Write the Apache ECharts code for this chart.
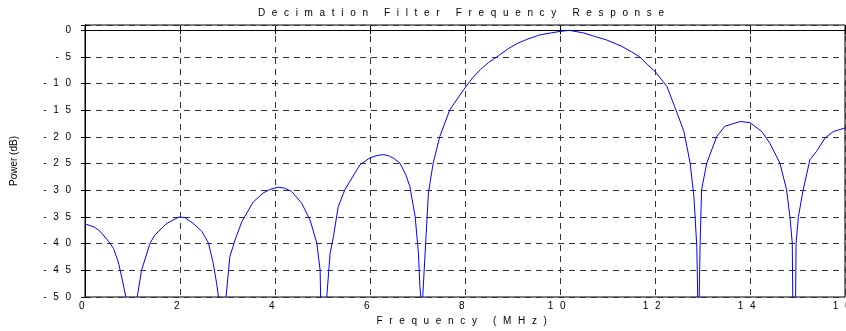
<!DOCTYPE html>
<html>
<head>
<meta charset="utf-8">
<script src="https://cdn.jsdelivr.net/npm/echarts@6/dist/echarts.min.js"></script>
<style>
html,body{margin:0;padding:0;background:#fff;}
#chart{width:846px;height:331px;}
</style>
</head>
<body>
<div id="chart"></div>
<script>
// ---- data ----
const titleText = 'Decimation Filter Frequency Response';
const xAxisName = 'Frequency (MHz)';
const yAxisName = 'Power (dB)';
const xTicks = [0, 2, 4, 6, 8, 10, 12, 14, 16];
const yTicks = [0, -5, -10, -15, -20, -25, -30, -35, -40, -45, -50];
const freqMHz = [
  0, 0.2, 0.32, 0.5, 0.6, 0.7, 0.8, 0.86, 0.98, 1.1,
  1.19, 1.37, 1.47, 1.72, 1.98, 2.1, 2.28, 2.46, 2.6, 2.7, 2.77, 2.81, 2.89, 2.97,
  3.05, 3.16, 3.3, 3.54, 3.75, 3.9, 4.07, 4.2, 4.35, 4.56, 4.74, 4.88, 4.95, 4.96, 5.02, 5.09,
  5.16, 5.23, 5.33, 5.47, 5.72, 5.79, 6.0, 6.14, 6.27, 6.39, 6.5, 6.63, 6.75, 6.84, 6.95, 7.02, 7.05, 7.07, 7.09, 7.11,
  7.16, 7.23, 7.33, 7.47, 7.68, 7.85, 8.0, 8.15, 8.32, 8.5, 8.67, 8.9, 9.09, 9.3, 9.58, 9.8, 10.0, 10.2, 10.5, 10.75, 10.98,
  11.3, 11.5, 11.68, 11.85, 12.0, 12.25, 12.44, 12.61, 12.74, 12.82, 12.88, 12.9, 12.915, 12.93,
  12.95, 12.98, 13.09, 13.3, 13.47, 13.79, 14.0, 14.25, 14.42, 14.63, 14.77, 14.84, 14.89, 14.9, 14.93, 14.96,
  14.97, 15.02, 15.12, 15.26, 15.4, 15.58, 15.75, 16.0
];
const powerDb = [
  -36.3, -36.9, -37.7, -39.6, -40.9, -43.4, -47.4, -50, -80, -50,
  -45, -39.9, -38.4, -36.2, -35.0, -35.1, -36.2, -37.7, -39.9, -43.7, -47.4, -50, -75, -50,
  -42.4, -39.3, -35.9, -32.2, -30.5, -29.8, -29.4, -29.6, -30.2, -32.4, -35.6, -39.9, -45, -50, -75, -50,
  -41.8, -38.7, -33.1, -29.9, -26.2, -25.2, -23.9, -23.5, -23.3, -23.5, -24.0, -24.9, -27.0, -29.3, -34.9, -41.8, -48, -50, -70, -50,
  -41.8, -30.5, -24.9, -19.9, -14.9, -12.7, -10.8, -9.0, -7.4, -6.0, -5.0, -3.5, -2.5, -1.7, -0.84, -0.5, -0.2, 0, -0.5, -1.2, -1.8,
  -3.0, -4.0, -5.0, -6.5, -7.7, -10.5, -14.9, -19.0, -24.9, -31.2, -40.6, -50, -70, -50,
  -40, -29.9, -24.9, -19.9, -18.0, -17.1, -17.3, -19.0, -21.2, -24.9, -29.9, -34.9, -39.9, -50, -70, -50,
  -39.9, -34.9, -29.9, -24.3, -22.7, -20.2, -19.0, -18.3
];

// letter-spaced text like the reference
const SEP = '\u2002\u2006';
function spaced(s) { return s.split('').join(SEP); }

const FONT = 'Liberation Sans, Arial, sans-serif';
const series = freqMHz.map((f, i) => [f, powerDb[i]]);

const chart = echarts.init(document.getElementById('chart'), null, {renderer: 'canvas'});
const tickStyle = {show: true, inside: true, length: 4, lineStyle: {color: '#000', width: 1}};
chart.setOption({
  animation: false,
  backgroundColor: '#fff',
  title: {
    text: spaced(titleText),
    left: 461, top: 8, padding: 0,
    textAlign: 'center',
    textStyle: {fontFamily: FONT, fontSize: 10, fontWeight: 'normal', color: '#000'}
  },
  grid: {left: 85, right: 1, top: 25, bottom: 34, show: true, borderColor: '#000', borderWidth: 1,
    containLabel: false, outerBoundsMode: 'none'},
  xAxis: [{
    type: 'value', min: xTicks[0], max: xTicks[xTicks.length - 1], interval: 2,
    name: spaced(xAxisName) + SEP, nameLocation: 'middle', nameGap: 17,
    nameTextStyle: {fontFamily: FONT, fontSize: 10, color: '#000'},
    axisLine: {show: true, lineStyle: {color: '#000', width: 1}},
    axisTick: tickStyle,
    axisLabel: {margin: 4, fontFamily: FONT, fontSize: 10, color: '#000', hideOverlap: false,
      formatter: v => spaced(String(v)) + SEP},
    splitLine: {show: true, lineStyle: {color: '#333', width: 1, type: [6, 5]}}
  }, {
    type: 'value', position: 'top', min: xTicks[0], max: xTicks[xTicks.length - 1], interval: 2,
    axisLine: {show: true, lineStyle: {color: '#000'}}, axisTick: tickStyle,
    axisLabel: {show: false}, splitLine: {show: false}
  }],
  yAxis: [{
    type: 'value', min: -50, max: 1, interval: 5,
    name: yAxisName, nameLocation: 'middle', nameGap: 66,
    nameTextStyle: {fontFamily: FONT, fontSize: 10, color: '#000'},
    axisLine: {show: true, lineStyle: {color: '#000', width: 1}},
    axisTick: tickStyle,
    axisLabel: {margin: 14, fontFamily: FONT, fontSize: 10, color: '#000',
      formatter: v => (yTicks.indexOf(v) >= 0 ? spaced(String(v)) : '')},
    splitLine: {show: true, lineStyle: {color: '#333', width: 1, type: [6, 5]}}
  }, {
    type: 'value', position: 'right', min: -50, max: 1, interval: 5,
    axisLine: {show: true, lineStyle: {color: '#000'}}, axisTick: tickStyle,
    axisLabel: {show: false}, splitLine: {show: false}
  }],
  series: [{
    type: 'line', data: series, xAxisIndex: 0, yAxisIndex: 0,
    showSymbol: false, symbol: 'none', smooth: false, clip: true,
    lineStyle: {color: '#0000ff', width: 1}
  }]
});
</script>
</body>
</html>
